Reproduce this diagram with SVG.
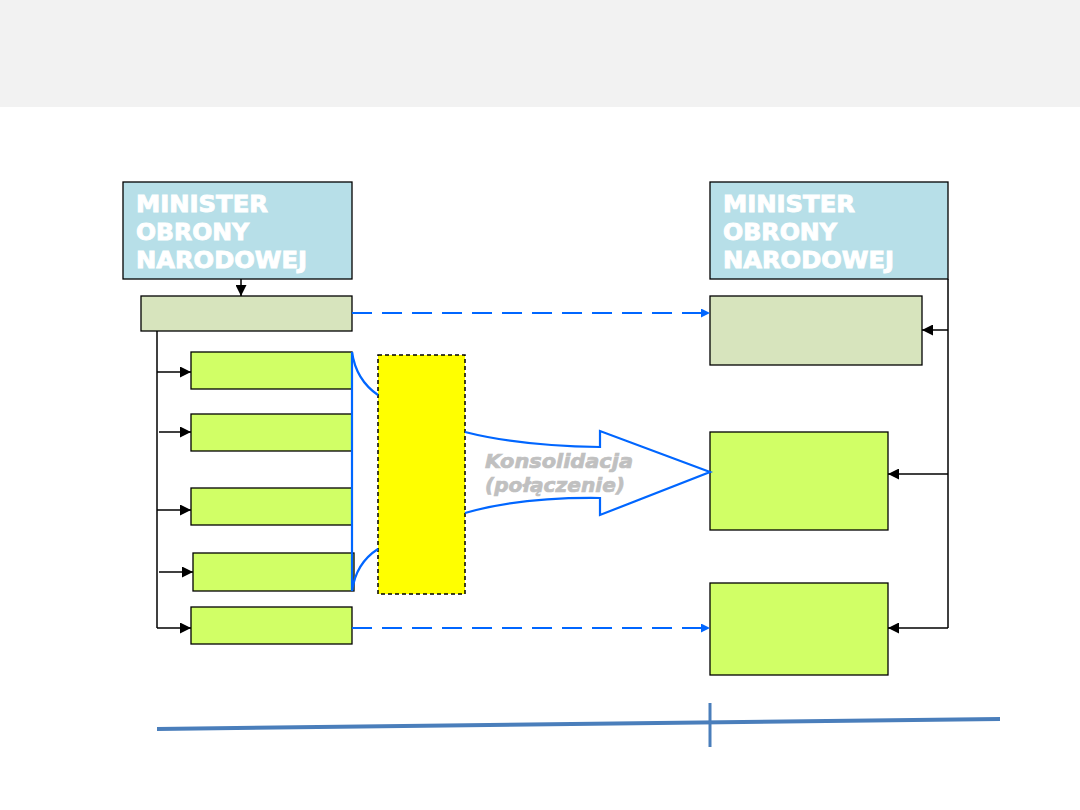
<svg xmlns="http://www.w3.org/2000/svg" width="1080" height="810" viewBox="0 0 1080 810">
<style>
.mon{fill:#b7dfe8;stroke:#000;stroke-width:1.3}
.lg{fill:#d7e4bd;stroke:#000;stroke-width:1.3}
.g{fill:#d1ff66;stroke:#000;stroke-width:1.3}
.mt{font-family:"DejaVu Sans","Liberation Sans",Arial,sans-serif;font-weight:bold;font-size:23px;fill:#fff;stroke:#fff;stroke-width:0.9}
.ln{fill:none;stroke:#000;stroke-width:1.5}
.bl{fill:none;stroke:#0066ff;stroke-width:2.2}
.dash{fill:none;stroke:#0066ff;stroke-width:2.2;stroke-dasharray:20,10}
.kt{font-family:"DejaVu Sans","Liberation Sans",Arial,sans-serif;font-weight:bold;font-style:italic;font-size:20px;fill:#c0c0c0;stroke:#c0c0c0;stroke-width:0.7}
</style>
<defs>
<marker id="ah" viewBox="0 0 10 10" refX="10" refY="5" markerWidth="11" markerHeight="11" markerUnits="userSpaceOnUse" orient="auto"><path d="M0,0 L10,5 L0,10 z" fill="#000"/></marker>
<marker id="bh" viewBox="0 0 10 10" refX="10" refY="5" markerWidth="9" markerHeight="9" markerUnits="userSpaceOnUse" orient="auto"><path d="M0,0 L10,5 L0,10 z" fill="#0066ff"/></marker>
</defs>
<rect x="0" y="0" width="1080" height="107" fill="#f2f2f2"/>
<rect x="0" y="107" width="1080" height="703" fill="#fff"/>

<g id="mon-left">
<rect class="mon" x="123" y="182" width="229" height="97"/>
<text class="mt" x="136" y="212" textLength="132" lengthAdjust="spacingAndGlyphs">MINISTER</text>
<text class="mt" x="136" y="240" textLength="113" lengthAdjust="spacingAndGlyphs">OBRONY</text>
<text class="mt" x="136" y="268" textLength="171" lengthAdjust="spacingAndGlyphs">NARODOWEJ</text>
</g>
<g id="mon-right">
<rect class="mon" x="710" y="182" width="238" height="97"/>
<text class="mt" x="723" y="212" textLength="132" lengthAdjust="spacingAndGlyphs">MINISTER</text>
<text class="mt" x="723" y="240" textLength="114" lengthAdjust="spacingAndGlyphs">OBRONY</text>
<text class="mt" x="723" y="268" textLength="171" lengthAdjust="spacingAndGlyphs">NARODOWEJ</text>
</g>
<g id="left-head"><rect class="lg" x="141" y="296" width="211" height="35"/></g>
<g id="left-1"><rect class="g" x="191" y="352" width="161" height="37"/></g>
<g id="left-2"><rect class="g" x="191" y="414" width="161" height="37"/></g>
<g id="left-3"><rect class="g" x="191" y="488" width="161" height="37"/></g>
<g id="left-4"><rect class="g" x="193" y="553" width="161" height="38"/></g>
<g id="left-5"><rect class="g" x="191" y="607" width="161" height="37"/></g>
<g id="yellow"><rect x="378" y="355" width="87" height="239" fill="#ffff00" stroke="#000" stroke-width="1.5" stroke-dasharray="4,3"/></g>
<g id="right-head"><rect class="lg" x="710" y="296" width="212" height="69"/></g>
<g id="right-1"><rect class="g" x="710" y="432" width="178" height="98"/></g>
<g id="right-2"><rect class="g" x="710" y="583" width="178" height="92"/></g>

<g id="connectors">
<line class="ln" x1="241" y1="279" x2="241" y2="296" marker-end="url(#ah)"/>
<polyline class="ln" points="157,331 157,628"/>
<line class="ln" x1="157" y1="372" x2="191" y2="372" marker-end="url(#ah)"/>
<line class="ln" x1="159" y1="432" x2="191" y2="432" stroke-width="2" marker-end="url(#ah)"/>
<line class="ln" x1="157" y1="510" x2="191" y2="510" marker-end="url(#ah)"/>
<line class="ln" x1="159" y1="572" x2="193" y2="572" marker-end="url(#ah)"/>
<line class="ln" x1="157" y1="628" x2="191" y2="628" stroke-width="2" marker-end="url(#ah)"/>
<polyline class="ln" points="948,279 948,628"/>
<line class="ln" x1="948" y1="330" x2="922" y2="330" stroke-width="2" marker-end="url(#ah)"/>
<line class="ln" x1="948" y1="474" x2="888" y2="474" stroke-width="2" marker-end="url(#ah)"/>
<line class="ln" x1="948" y1="628" x2="888" y2="628" stroke-width="2" marker-end="url(#ah)"/>
<line class="dash" x1="352" y1="313" x2="710" y2="313" marker-end="url(#bh)"/>
<line class="dash" x1="352" y1="628" x2="710" y2="628" marker-end="url(#bh)"/>
<line class="bl" x1="352" y1="352" x2="352" y2="591"/>
<path class="bl" d="M352,352 Q356,380 378,395"/>
<path class="bl" d="M352,591 Q356,563 378,549"/>
<path class="bl" d="M465,432 Q520,446 600,447 L600,431 L710,472 L600,515 L600,498 Q520,497 465,513"/>
</g>
<g id="label">
<text class="kt" x="485" y="468" textLength="148" lengthAdjust="spacingAndGlyphs">Konsolidacja</text>
<text class="kt" x="485" y="492" textLength="140" lengthAdjust="spacingAndGlyphs">(połączenie)</text>
</g>
<g id="timeline">
<line x1="157" y1="729" x2="1000" y2="719" stroke="#4a7ebb" stroke-width="4"/>
<line x1="710" y1="703" x2="710" y2="747" stroke="#4a7ebb" stroke-width="3"/>
</g>
</svg>
